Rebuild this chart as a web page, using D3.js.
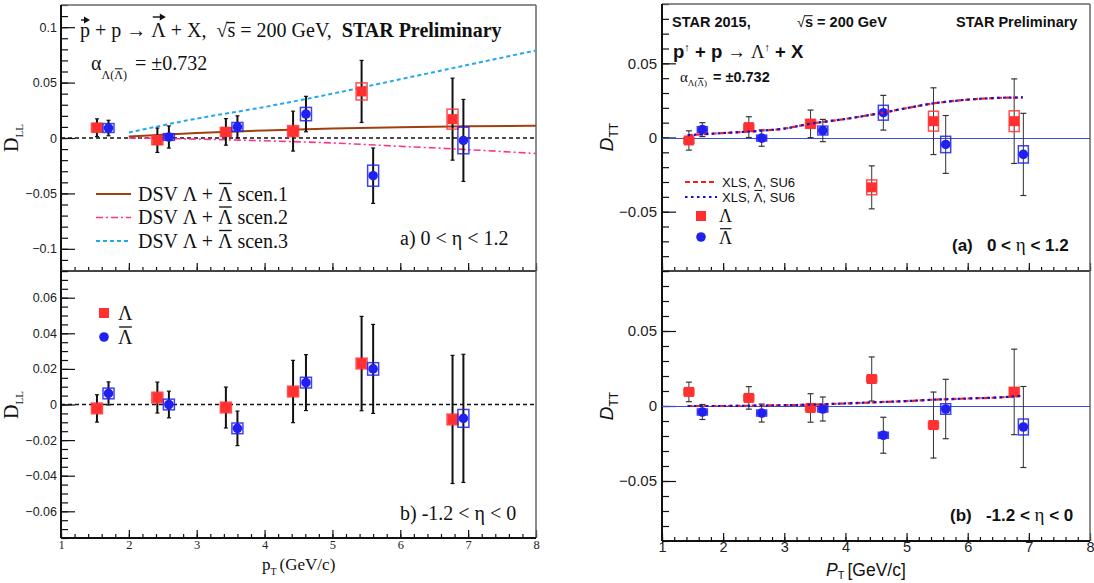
<!DOCTYPE html>
<html>
<head>
<meta charset="utf-8">
<script src="https://cdn.jsdelivr.net/npm/d3@7"></script>
<style>
body { margin: 0; background: #fff; }
text { white-space: pre; }
</style>
</head>
<body>
<svg width="1094" height="583"></svg>
<script>
// ---- data: D_LL (left), two eta bins ----
var ptLam = [1.53, 2.42, 3.43, 4.42, 5.43, 6.77];
var ptBar = [1.70, 2.59, 3.60, 4.61, 5.60, 6.93];

var dllLamA = [0.0093, -0.002, 0.0055, 0.0062, 0.042, 0.017];
var dllLamAStat = [0.008, 0.011, 0.012, 0.018, 0.028, 0.037];
var dllLamASys = [0.004, 0.004, 0.004, 0.005, 0.0077, 0.009];
var dllBarA = [0.009, 0.0009, 0.010, 0.0216, -0.034, -0.0022];
var dllBarAStat = [0.007, 0.010, 0.010, 0.016, 0.025, 0.037];
var dllBarASys = [0.004, 0.003, 0.004, 0.006, 0.0095, 0.012];

var dllLamB = [-0.0022, 0.0039, -0.0017, 0.0073, 0.023, -0.0084];
var dllLamBStat = [0.0077, 0.0087, 0.0115, 0.0175, 0.0265, 0.036];
var dllLamBSys = [0.003, 0.003, 0.003, 0.003, 0.003, 0.003];
var dllBarB = [0.0062, 0.0, -0.0134, 0.0123, 0.020, -0.0078];
var dllBarBStat = [0.0065, 0.0075, 0.0097, 0.0157, 0.025, 0.036];
var dllBarBSys = [0.003, 0.003, 0.003, 0.003, 0.0035, 0.005];

// DSV model curves
var scenPt = [2, 3, 4, 5, 6, 7, 8];
var scen1 = [0.0013, 0.0045, 0.0068, 0.0085, 0.0097, 0.0105, 0.011];
var scen2 = [0, -0.001, -0.0025, -0.0045, -0.0075, -0.0105, -0.014];
var scen3 = [0.005, 0.0175, 0.028, 0.040, 0.053, 0.066, 0.079];

// ---- data: D_TT (right) ----
var ptLamR = [1.44, 2.42, 3.43, 4.43, 5.44, 6.76];
var ptBarR = [1.66, 2.63, 3.63, 4.62, 5.64, 6.91];

var dttLamA = [-0.002, 0.007, 0.0092, -0.0336, 0.011, 0.011];
var dttLamAStat = [0.0065, 0.007, 0.0093, 0.0145, 0.0225, 0.0285];
var dttLamASys = [0.002, 0.002, 0.003, 0.005, 0.0067, 0.007];
var dttBarA = [0.0053, -0.0004, 0.0047, 0.0167, -0.0047, -0.0114];
var dttBarAStat = [0.0047, 0.0055, 0.0075, 0.0117, 0.0195, 0.0277];
var dttBarASys = [0.002, 0.002, 0.003, 0.005, 0.0055, 0.0058];

var dttLamB = [0.0094, 0.0054, -0.0013, 0.018, -0.0127, 0.0094];
var dttLamBStat = [0.0065, 0.0075, 0.0095, 0.0147, 0.022, 0.0285];
var dttLamBSys = [0.002, 0.002, 0.002, 0.002, 0.002, 0.003];
var dttBarB = [-0.004, -0.0047, -0.002, -0.0195, -0.002, -0.014];
var dttBarBStat = [0.005, 0.006, 0.008, 0.012, 0.0198, 0.027];
var dttBarBSys = [0.002, 0.002, 0.002, 0.002, 0.0035, 0.0053];

// XLS model curves
var xlsPt = [1.42, 2, 2.6, 3, 3.43, 4, 4.62, 5, 5.44, 6, 6.5, 6.9];
var xlsA = [0.0016, 0.003, 0.0045, 0.006, 0.0093, 0.0125, 0.0168, 0.0198, 0.023, 0.0255, 0.0267, 0.027];
var xlsB = [0, 0, 0.0003, 0.0005, 0.0009, 0.0017, 0.0027, 0.0033, 0.0042, 0.005, 0.0057, 0.0068];

// tick labels
var xTicks = [1, 2, 3, 4, 5, 6, 7, 8];
var dllTicksA = [-0.1, -0.05, 0, 0.05, 0.1];
var dllTicksB = [-0.06, -0.04, -0.02, 0, 0.02, 0.04, 0.06];
var dttTicks = [-0.05, 0, 0.05];

var serif = "'Liberation Serif', 'Times New Roman', serif";
var sans = "'Liberation Sans', Arial, Helvetica, sans-serif";

var RED = "#ff3030", BLUE = "#2020f0";

const svg = d3.select("svg");

var xL = d3.scaleLinear().domain([1, 8]).range([61, 536]);
var xR = d3.scaleLinear().domain([1, 8]).range([662, 1090]);
var yLA = d3.scaleLinear().domain([-0.12, 0.12]).range([271, 5]);
var yLB = d3.scaleLinear().domain([-0.075, 0.075]).range([538, 271]);
var yRA = d3.scaleLinear().domain([-0.09, 0.09]).range([271, 4]);
var yRB = d3.scaleLinear().domain([-0.09, 0.09]).range([541, 271]);

function fmt(d) {
    if (d === 0) return "0";
    return (d < 0 ? "\u2212" : "") + Math.abs(d);
}

// text with sub/sup, overline and vector arrows, laid out piece by piece
function rich(g, x, y, parts, base) {
    let cx = x;
    parts.forEach(p => {
        const fs = p.size || ((p.sub || p.sup) ? base.size * 0.62 : base.size);
        const yy = y + (p.sub ? (p.drop || base.size * 0.3) : p.sup ? -base.size * 0.4 : 0);
        const t = g.append("text")
            .attr("x", cx).attr("y", yy)
            .attr("font-family", p.family || base.family)
            .attr("font-size", fs)
            .attr("font-weight", p.bold ? "bold" : (p.normal ? "normal" : (base.weight || "normal")))
            .attr("font-style", p.italic ? "italic" : "normal")
            .attr("fill", "#111")
            .text(p.t);
        const w = t.node().getComputedTextLength();
        if (p.over) {
            const oy = yy - fs * (p.overY || 0.8);
            g.append("line")
                .attr("x1", cx + w * (p.overL !== undefined ? p.overL : 0.08)).attr("x2", cx + w * 0.95)
                .attr("y1", oy).attr("y2", oy)
                .attr("stroke", "#111").attr("stroke-width", Math.max(1, fs / 15));
        }
        if (p.arrow) {
            const ay = yy - fs * (p.arrowY || 0.9);
            const ax1 = cx + w * 0.1, ax2 = cx + w * 1.0;
            g.append("line").attr("x1", ax1).attr("x2", ax2 - 2).attr("y1", ay).attr("y2", ay)
                .attr("stroke", "#111").attr("stroke-width", 1.4);
            g.append("path").attr("d", `M${ax2},${ay} l-6,-3.5 l0,7 z`).attr("fill", "#111");
        }
        cx += w + (p.gap || 0);
    });
    return cx;
}

function vlabel(cx, cy, parts, base) {
    const outer = svg.append("g").attr("transform", `translate(${cx},${cy}) rotate(-90)`);
    const inner = outer.append("g");
    const end = rich(inner, 0, 0, parts, base);
    inner.attr("transform", `translate(${-end / 2},0)`);
}

function frame(x, y, topLine, bottomLine, xLabels, o) {
    const g = svg.append("g");
    const x0 = x.range()[0], x1 = x.range()[1];
    const yb = y.range()[0], yt = y.range()[1];

    // minor / major y ticks
    g.append("g").attr("transform", `translate(${x0},0)`)
        .call(d3.axisLeft(y).tickValues(o.yMinor).tickSize(-7).tickFormat(""))
        .call(a => a.select(".domain").remove());
    const ya = g.append("g").attr("transform", `translate(${x0},0)`)
        .call(d3.axisLeft(y).tickValues(o.yMajor).tickSize(-14).tickPadding(o.yPad).tickFormat(fmt));
    ya.select(".domain").remove();
    ya.selectAll("text").attr("font-family", o.yFont).attr("font-size", o.yFontSize).attr("fill", "#222");

    // x ticks
    const xm = g.append("g").attr("transform", `translate(0,${yb})`)
        .call(d3.axisBottom(x).tickValues(d3.range(1, 8.01, 0.2)).tickSize(-4).tickFormat(""));
    xm.select(".domain").remove();
    const xa = g.append("g").attr("transform", `translate(0,${yb})`)
        .call(d3.axisBottom(x).tickValues(xTicks).tickSize(-8).tickPadding(o.xPad).tickFormat(xLabels ? d3.format("d") : ""));
    xa.select(".domain").remove();
    xa.selectAll("text").attr("font-family", o.xFont).attr("font-size", o.xFontSize).attr("fill", "#222");
    g.selectAll(".tick line").attr("stroke", "#111").attr("stroke-width", 1.2);

    // frame lines
    if (topLine) g.append("line").attr("x1", x0).attr("x2", x1).attr("y1", yt).attr("y2", yt)
        .attr("stroke", "#666").attr("stroke-width", 1.5);
    g.append("line").attr("x1", x1).attr("x2", x1).attr("y1", yt).attr("y2", yb)
        .attr("stroke", "#666").attr("stroke-width", 1.5);
    g.append("line").attr("x1", x0).attr("x2", x0).attr("y1", yt).attr("y2", yb)
        .attr("stroke", "#111").attr("stroke-width", 2);
    g.append("line").attr("x1", x0).attr("x2", x1).attr("y1", yb).attr("y2", yb)
        .attr("stroke", bottomLine ? "#111" : "#444").attr("stroke-width", 2);
    return g;
}

var leftOpt = { yPad: 4, yFont: sans, yFontSize: 12.5, xPad: 2, xFont: serif, xFontSize: 12.5 };
var rightOpt = { yPad: 5, yFont: sans, yFontSize: 15, xPad: 1, xFont: sans, xFontSize: 14.5 };

frame(xL, yLA, true, false, false, Object.assign({ yMajor: dllTicksA, yMinor: d3.range(-0.12, 0.1201, 0.01) }, leftOpt));
frame(xL, yLB, false, true, true, Object.assign({ yMajor: dllTicksB, yMinor: d3.range(-0.075, 0.0751, 0.005) }, leftOpt));
frame(xR, yRA, true, false, false, Object.assign({ yMajor: dttTicks, yMinor: d3.range(-0.09, 0.0901, 0.01) }, rightOpt));
frame(xR, yRB, false, true, true, Object.assign({ yMajor: dttTicks, yMinor: d3.range(-0.09, 0.0901, 0.01) }, rightOpt));

// zero lines
[yLA, yLB].forEach(y => {
    svg.append("line").attr("x1", xL(1)).attr("x2", xL(8)).attr("y1", y(0)).attr("y2", y(0))
        .attr("stroke", "#111").attr("stroke-width", 1.5).attr("stroke-dasharray", "4,3");
});
[yRA, yRB].forEach(y => {
    const yz = Math.round(y(0)) + 0.5;
    svg.append("line").attr("x1", xR(1)).attr("x2", xR(8)).attr("y1", yz).attr("y2", yz)
        .attr("stroke", "#3a4fd0").attr("stroke-width", 1.1);
});

// model curves
function curve(x, y, xs, ys, color, width, dash) {
    const line = d3.line().x(d => x(d[0])).y(d => y(d[1])).curve(d3.curveMonotoneX);
    svg.append("path").datum(xs.map((v, i) => [v, ys[i]]))
        .attr("d", line).attr("fill", "none")
        .attr("stroke", color).attr("stroke-width", width)
        .attr("stroke-dasharray", dash);
}
curve(xL, yLA, scenPt, scen2, "#ff3388", 1.6, "7,3,2,3");
curve(xL, yLA, scenPt, scen1, "#a0400c", 2, null);
curve(xL, yLA, scenPt, scen3, "#22a8f0", 2, "4,3");

// data points with stat error bars and systematic boxes
function points(x, y, pts, vals, stat, sys, color, shape, st) {
    const g = svg.append("g");
    const d = pts.map((p, i) => ({ p: p, v: vals[i], e: stat[i], s: sys[i] }));
    g.selectAll(".err").data(d).enter().append("line")
        .attr("x1", k => x(k.p)).attr("x2", k => x(k.p))
        .attr("y1", k => y(k.v + k.e)).attr("y2", k => y(k.v - k.e))
        .attr("stroke", st.errColor).attr("stroke-width", st.errWidth);
    [1, -1].forEach(sg => {
        g.selectAll(null).data(d).enter().append("line")
            .attr("x1", k => x(k.p) - st.cap).attr("x2", k => x(k.p) + st.cap)
            .attr("y1", k => y(k.v + sg * k.e)).attr("y2", k => y(k.v + sg * k.e))
            .attr("stroke", st.errColor).attr("stroke-width", 1.2);
    });
    g.selectAll(".sys").data(d).enter().append("rect")
        .attr("x", k => x(k.p) - st.box / 2).attr("width", st.box)
        .attr("y", k => y(k.v + k.s)).attr("height", k => y(k.v - k.s) - y(k.v + k.s))
        .attr("fill", "none").attr("stroke", color).attr("stroke-width", 1.5).attr("opacity", 0.85);
    if (shape === "square") {
        g.selectAll(".mk").data(d).enter().append("rect")
            .attr("x", k => x(k.p) - 5).attr("y", k => y(k.v) - 5)
            .attr("width", 10).attr("height", 10).attr("fill", color);
    } else {
        g.selectAll(".mk").data(d).enter().append("circle")
            .attr("cx", k => x(k.p)).attr("cy", k => y(k.v)).attr("r", 4.8).attr("fill", color);
    }
}
var stL = { errColor: "#111", errWidth: 2, cap: 2, box: 11 };
var stR = { errColor: "#333", errWidth: 1, cap: 3, box: 10 };

points(xL, yLA, ptLam, dllLamA, dllLamAStat, dllLamASys, RED, "square", stL);
points(xL, yLA, ptBar, dllBarA, dllBarAStat, dllBarASys, BLUE, "circle", stL);
points(xL, yLB, ptLam, dllLamB, dllLamBStat, dllLamBSys, RED, "square", stL);
points(xL, yLB, ptBar, dllBarB, dllBarBStat, dllBarBSys, BLUE, "circle", stL);

points(xR, yRA, ptLamR, dttLamA, dttLamAStat, dttLamASys, RED, "square", stR);
points(xR, yRA, ptBarR, dttBarA, dttBarAStat, dttBarASys, BLUE, "circle", stR);
points(xR, yRB, ptLamR, dttLamB, dttLamBStat, dttLamBSys, RED, "square", stR);
points(xR, yRB, ptBarR, dttBarB, dttBarBStat, dttBarBSys, BLUE, "circle", stR);

// XLS curves on top of points
[[yRA, xlsA], [yRB, xlsB]].forEach(c => {
    curve(xR, c[0], xlsPt, c[1], "#ee2222", 2.2, "5,3");
    curve(xR, c[0], xlsPt, c[1], "#1010dd", 2.2, "2.5,3.5");
});

// ---------- left texts ----------
var sb = { family: serif, size: 20 };
rich(svg, 80, 37, [
    { t: "p", arrow: true, arrowY: 0.85 }, { t: " + p \u2192 " }, { t: "\u039B", arrow: true, arrowY: 1.0 },
    { t: " + X,  " }, { t: "\u221A" }, { t: "s", over: true, overL: -0.1, overY: 0.72 },
    { t: " = 200 GeV,  " }, { t: "STAR Preliminary", bold: true }
], sb);
rich(svg, 91, 70, [
    { t: "\u03B1" }, { t: "\u039B(", sub: true, drop: 9, size: 12 },
    { t: "\u039B", sub: true, drop: 9, size: 12, over: true, overY: 0.85 },
    { t: ")", sub: true, drop: 9, size: 12, gap: 3 }, { t: " = \u00B10.732" }
], sb);

var legRows = [194, 217.5, 241];
var legStyle = [["#a0400c", null, 2], ["#ff3388", "7,3,2,3", 1.6], ["#22a8f0", "4,3", 2]];
legRows.forEach((ly, i) => {
    svg.append("line").attr("x1", 96).attr("x2", 131).attr("y1", ly).attr("y2", ly)
        .attr("stroke", legStyle[i][0]).attr("stroke-width", legStyle[i][2])
        .attr("stroke-dasharray", legStyle[i][1]);
    rich(svg, 138, ly + 6.5, [
        { t: "DSV \u039B + " }, { t: "\u039B", over: true, overY: 0.85 }, { t: " scen." + (i + 1) }
    ], sb);
});
rich(svg, 400, 245, [{ t: "a) 0 < \u03B7 < 1.2" }], sb);
rich(svg, 400, 520, [{ t: "b) -1.2 < \u03B7 < 0" }], sb);

// lambda legend (bottom left)
svg.append("rect").attr("x", 99).attr("y", 308).attr("width", 10).attr("height", 10).attr("fill", RED);
svg.append("circle").attr("cx", 104).attr("cy", 337).attr("r", 4.8).attr("fill", BLUE);
rich(svg, 118, 320, [{ t: "\u039B" }], sb);
rich(svg, 118, 344, [{ t: "\u039B", over: true, overY: 0.85 }], sb);

vlabel(18, 138, [{ t: "D" }, { t: "LL", sub: true, drop: 5, size: 11 }], sb);
vlabel(18, 405, [{ t: "D" }, { t: "LL", sub: true, drop: 5, size: 11 }], sb);
rich(svg, 262, 570, [{ t: "p" }, { t: "T", sub: true, drop: 5, size: 10, gap: 3 }, { t: "(GeV/c)" }], { family: serif, size: 17 });

// ---------- right texts ----------
var ss = { family: sans, size: 14.5, weight: "bold" };
rich(svg, 672, 27, [{ t: "STAR 2015," }], ss);
rich(svg, 797, 27, [{ t: "\u221A", normal: true }, { t: "s", over: true, overL: -0.1, overY: 0.78 }, { t: " = 200 GeV" }], ss);
rich(svg, 956, 27, [{ t: "STAR Preliminary" }], ss);
rich(svg, 673, 58, [
    { t: "p" }, { t: "\u2191", sup: true, normal: true, size: 11 }, { t: " + p " },
    { t: "\u2192", normal: true }, { t: " " }, { t: "\u039B", normal: true, family: serif },
    { t: "\u2191", sup: true, normal: true, size: 11 }, { t: " + X" }
], { family: sans, size: 18.5, weight: "bold" });
rich(svg, 680, 82, [
    { t: "\u03B1", family: serif, normal: true, size: 15 },
    { t: "\u039B(", sub: true, drop: 4, size: 9, family: serif, normal: true },
    { t: "\u039B", sub: true, drop: 4, size: 9, family: serif, normal: true, over: true, overY: 0.85 },
    { t: ")", sub: true, drop: 4, size: 9, family: serif, normal: true, gap: 2 },
    { t: " = \u00B10.732" }
], ss);

svg.append("line").attr("x1", 685).attr("x2", 717).attr("y1", 182).attr("y2", 182)
    .attr("stroke", "#ee2222").attr("stroke-width", 2.2).attr("stroke-dasharray", "5,3");
svg.append("line").attr("x1", 685).attr("x2", 717).attr("y1", 197).attr("y2", 197)
    .attr("stroke", "#1010dd").attr("stroke-width", 2.2).attr("stroke-dasharray", "2.5,3.5");
var sl = { family: sans, size: 13 };
rich(svg, 722, 186.5, [{ t: "XLS, " }, { t: "\u039B" }, { t: ", SU6" }], sl);
rich(svg, 722, 201.5, [{ t: "XLS, " }, { t: "\u039B", over: true, overY: 0.85 }, { t: ", SU6" }], sl);
svg.append("rect").attr("x", 696).attr("y", 211).attr("width", 10).attr("height", 10).attr("fill", RED);
svg.append("circle").attr("cx", 701).attr("cy", 237).attr("r", 4.8).attr("fill", BLUE);
rich(svg, 719, 222, [{ t: "\u039B" }], { family: serif, size: 18 });
rich(svg, 719, 244, [{ t: "\u039B", over: true, overY: 0.85 }], { family: serif, size: 18 });

var sbold = { family: sans, size: 17, weight: "bold" };
rich(svg, 952, 251, [{ t: "(a)   0 < " }, { t: "\u03B7", family: serif, normal: true, size: 19 }, { t: " < 1.2" }], sbold);
rich(svg, 950, 521, [{ t: "(b)   -1.2 < " }, { t: "\u03B7", family: serif, normal: true, size: 19 }, { t: " < 0" }], sbold);

vlabel(613, 137, [{ t: "D", italic: true }, { t: "TT", sub: true, drop: 5, size: 12 }], { family: sans, size: 19 });
vlabel(613, 406, [{ t: "D", italic: true }, { t: "TT", sub: true, drop: 5, size: 12 }], { family: sans, size: 19 });
rich(svg, 826, 576, [{ t: "P", italic: true }, { t: "T", sub: true, drop: 3, size: 11, gap: 3 }, { t: "[GeV/c]" }], { family: sans, size: 17.5 });
</script>
</body>
</html>
